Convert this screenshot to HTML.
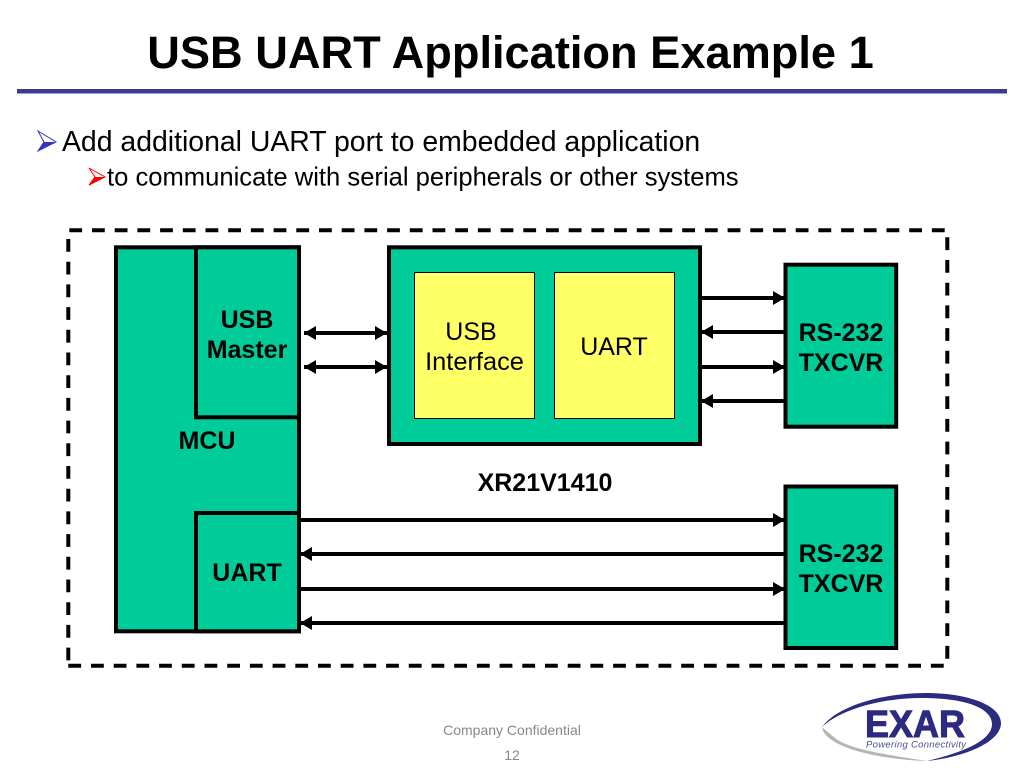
<!DOCTYPE html>
<html><head><meta charset="utf-8"><style>
html,body{margin:0;padding:0;background:#fff}
svg{display:block}
text{font-family:"Liberation Sans",sans-serif;fill:#000}
.b{font-weight:bold}
</style></head><body>
<svg width="1024" height="768" viewBox="0 0 1024 768" xmlns="http://www.w3.org/2000/svg">
<defs>
<marker id="a" markerUnits="userSpaceOnUse" markerWidth="12" markerHeight="14" refX="12" refY="7" orient="auto-start-reverse"><path d="M0 0L12 7L0 14Z" fill="#000"/></marker>
</defs>
<text x="510.500" y="68" text-anchor="middle" class="b" font-size="45.200">USB UART Application Example 1</text>
<rect x="17" y="89" width="990" height="4.500" fill="#3b3b8e"/>
<path d="M38 131L56 142L38 151L44 142Z" fill="#fff" stroke="#3333bb" stroke-width="1"/><path d="M38 151L56 142L44 142Z" fill="#3333bb"/>
<text x="62" y="151" font-size="28.400">Add additional UART port to embedded application</text>
<path d="M89 168L105 177L89 185L95 177Z" fill="#fff" stroke="#f00" stroke-width="1"/><path d="M89 185L105 177L95 177Z" fill="#f00"/>
<text x="107" y="185.500" font-size="25.600">to communicate with serial peripherals or other systems</text>
<g stroke="#000" stroke-width="4" fill="none" stroke-dasharray="12.800 9.900">
<line x1="69.300" y1="230.300" x2="946" y2="230.300"/>
<line x1="947.300" y1="237.300" x2="947.300" y2="662"/>
<line x1="68.300" y1="665.700" x2="946" y2="665.700"/>
<line x1="68.300" y1="239" x2="68.300" y2="662"/>
</g>
<g stroke="#000" stroke-width="4" fill="#00cc99">
<rect x="116" y="247.300" width="183" height="384"/>
<rect x="196" y="247.300" width="103" height="170"/>
<rect x="196" y="513" width="103" height="118.300"/>
<rect x="389" y="247.300" width="311" height="196.700"/>
<rect x="785.500" y="264.700" width="110.700" height="162"/>
<rect x="785.500" y="486.500" width="110.700" height="161.500"/>
</g>
<g stroke="#000" stroke-width="1" fill="#ffff66">
<rect x="414.500" y="272.500" width="120" height="146"/>
<rect x="554.500" y="272.500" width="120" height="146"/>
</g>
<g stroke="#000" stroke-width="4" fill="none">
<line x1="304" y1="333" x2="387" y2="333" marker-start="url(#a)" marker-end="url(#a)"/>
<line x1="304" y1="367" x2="387" y2="367" marker-start="url(#a)" marker-end="url(#a)"/>
<line x1="701" y1="298" x2="785" y2="298" marker-end="url(#a)"/>
<line x1="785" y1="332" x2="701" y2="332" marker-end="url(#a)"/>
<line x1="701" y1="367" x2="785" y2="367" marker-end="url(#a)"/>
<line x1="785" y1="401" x2="701" y2="401" marker-end="url(#a)"/>
<line x1="300" y1="520" x2="785" y2="520" marker-end="url(#a)"/>
<line x1="785" y1="554" x2="300" y2="554" marker-end="url(#a)"/>
<line x1="300" y1="589" x2="785" y2="589" marker-end="url(#a)"/>
<line x1="785" y1="623" x2="300" y2="623" marker-end="url(#a)"/>
</g>
<g font-size="25" class="b" text-anchor="middle">
<text x="247" y="328">USB</text>
<text x="247" y="358">Master</text>
<text x="207" y="449">MCU</text>
<text x="247" y="581">UART</text>
<text x="841" y="341">RS-232</text>
<text x="841" y="371">TXCVR</text>
<text x="841" y="562">RS-232</text>
<text x="841" y="592">TXCVR</text>
<text x="545" y="491">XR21V1410</text>
</g>
<g font-size="25" text-anchor="middle">
<text x="471" y="340">USB</text>
<text x="474.500" y="370" font-size="25.400">Interface</text>
<text x="614" y="355">UART</text>
</g>
<text x="512" y="735" font-size="14" style="fill:#888" text-anchor="middle">Company Confidential</text>
<text x="512" y="760" font-size="14" style="fill:#888" text-anchor="middle">12</text>
<path d="M822 727C838 705 885 693 925 693C970 693 1001 706 1001 723C1001 742 965 757 927 761C965 752 992 740 992 724C992 708 965 698 922 698C880 698 840 710 822 727Z" fill="#2b2b80"/>
<path d="M822 727C824 745 870 759 927 761C890 755 850 750 835 738C829 733 825 730 822 727Z" fill="#b5b5b5"/>
<text x="915" y="737" font-size="38" class="b" text-anchor="middle" stroke="#2b2b80" stroke-width="1" style="fill:#2b2b80" textLength="100" lengthAdjust="spacingAndGlyphs">EXAR</text>
<text x="916" y="747.500" font-size="9.500" font-style="italic" text-anchor="middle" style="fill:#4a4a90" textLength="100">Powering Connectivity</text>
</svg>
</body></html>
